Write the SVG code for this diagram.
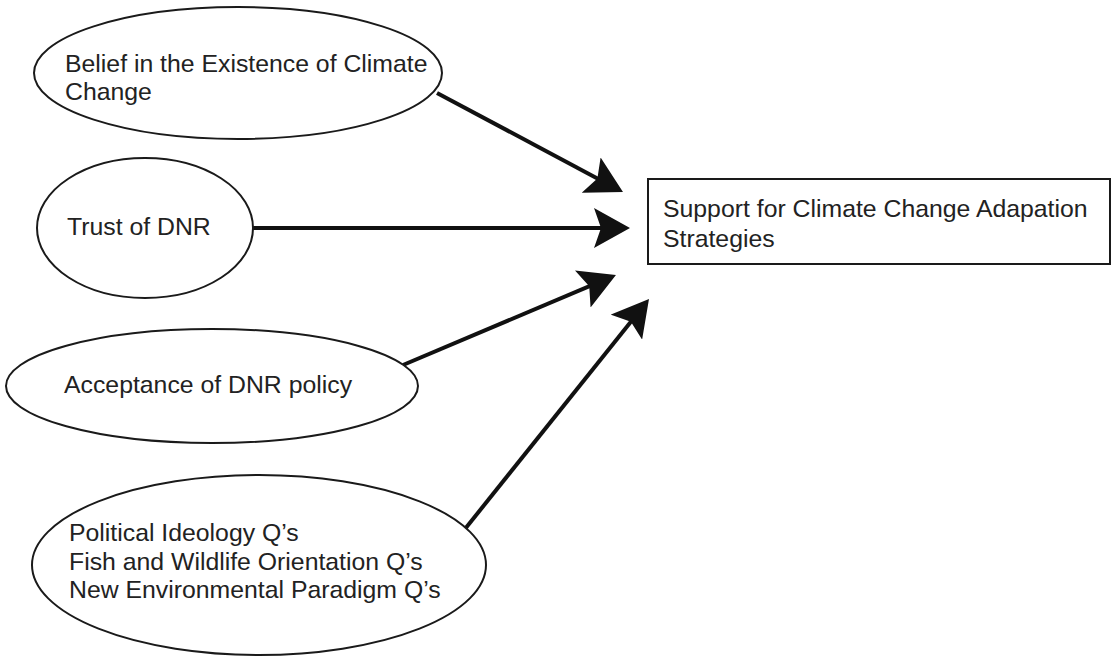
<svg xmlns="http://www.w3.org/2000/svg" width="1112" height="657" viewBox="0 0 1112 657">
<style>
.node ellipse, .node rect { fill: #ffffff; stroke: #1a1a1a; stroke-width: 2; }
.label { font-family: "Liberation Sans", Arial, sans-serif; font-size: 24.8px; fill: #222222; }
.conn line { stroke: #111111; stroke-width: 4; marker-end: url(#arrow); }
</style>
<defs>
<marker id="arrow" markerUnits="userSpaceOnUse" markerWidth="36" markerHeight="40" viewBox="0 0 36 40" refX="24" refY="20" orient="auto">
<path d="M0,0 L36,20 L0,40 L7,20 Z" fill="#111111"/>
</marker>
</defs>
<rect width="1112" height="657" fill="#ffffff"/>
<g id="connectors" class="conn">
<line x1="437" y1="93" x2="612.4" y2="186.4"/>
<line x1="253" y1="228" x2="618" y2="228"/>
<line x1="403" y1="365" x2="604.9" y2="279.7"/>
<line x1="465" y1="529" x2="641.5" y2="308.4"/>
</g>
<g id="node-belief" class="node">
<ellipse cx="238" cy="73" rx="204" ry="66"/>
<text class="label" x="65" y="72">Belief in the Existence of Climate</text>
<text class="label" x="65" y="100">Change</text>
</g>
<g id="node-trust" class="node">
<ellipse cx="145" cy="228" rx="108" ry="70"/>
<text class="label" x="67" y="235">Trust of DNR</text>
</g>
<g id="node-acceptance" class="node">
<ellipse cx="212" cy="386" rx="206" ry="57"/>
<text class="label" x="64" y="393">Acceptance of DNR policy</text>
</g>
<g id="node-ideology" class="node">
<ellipse cx="259" cy="565" rx="227" ry="90"/>
<text class="label" x="69" y="541">Political Ideology Q’s</text>
<text class="label" x="69" y="570">Fish and Wildlife Orientation Q’s</text>
<text class="label" x="69" y="598">New Environmental Paradigm Q’s</text>
</g>
<g id="node-support" class="node">
<rect x="648" y="179" width="462" height="85"/>
<text class="label" x="663" y="217">Support for Climate Change Adapation</text>
<text class="label" x="663" y="247">Strategies</text>
</g>
</svg>
